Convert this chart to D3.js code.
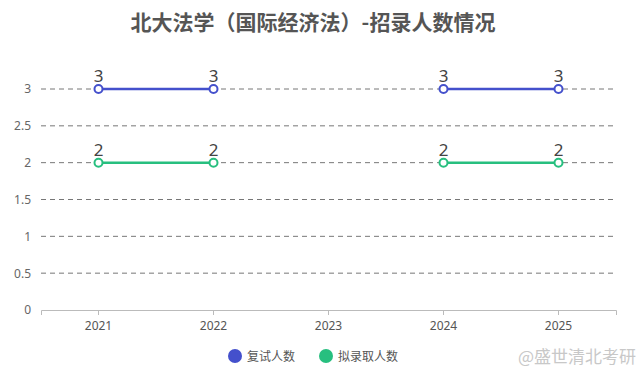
<!DOCTYPE html>
<html>
<head>
<meta charset="utf-8">
<script src="https://cdn.jsdelivr.net/npm/d3@7/dist/d3.min.js"></script>
<style>
  body { margin: 0; background: #fff; font-family: "Noto Sans CJK SC", "Noto Sans", sans-serif; }
  svg { display: block; }
</style>
</head>
<body>
<svg id="chart"></svg>
<script>
'use strict';

// datos
var years = ['2021', '2022', '2023', '2024', '2025'];
var fushi = [3, 3, null, 3, 3];
var nilu = [2, 2, null, 2, 2];
var yTicks = [0, 0.5, 1, 1.5, 2, 2.5, 3];
var seriesNames = ['复试人数', '拟录取人数'];
var colors = ['#4450cc', '#27bf7f'];

var W = 644, H = 384;
var margin = { top: 52, right: 28, bottom: 74, left: 41 };
var width = W - margin.left - margin.right;
var height = H - margin.top - margin.bottom;

var svg = d3.select('#chart').attr('width', W).attr('height', H);

svg.append('text')
  .attr('x', 313).attr('y', 30)
  .attr('text-anchor', 'middle')
  .attr('font-size', 21).attr('font-weight', 'bold')
  .attr('fill', '#555')
  .text('北大法学（国际经济法）-招录人数情况');

var g = svg.append('g').attr('transform', 'translate(' + margin.left + ',' + margin.top + ')');

var x = d3.scaleBand().domain(years).range([0, width]);
// 3 cae en y=89, 0 en y=310
var y = d3.scaleLinear().domain([0, 3]).range([height, 89 - margin.top]);

// grid
g.append('g').selectAll('line')
  .data(yTicks.filter(function (d) { return d > 0; }))
  .enter().append('line')
  .attr('x1', 0).attr('x2', width)
  .attr('y1', function (d) { return y(d); })
  .attr('y2', function (d) { return y(d); })
  .attr('stroke', '#777').attr('stroke-dasharray', '5,4').attr('stroke-width', 1);

// eje Y
var axisY = d3.axisLeft(y).tickValues(yTicks).tickSize(0).tickPadding(10)
  .tickFormat(function (d) { return String(d); });
var gy = g.append('g').call(axisY);
gy.select('.domain').remove();
gy.selectAll('text').attr('fill', '#666').attr('font-size', 12).attr('font-family', '"Noto Sans", sans-serif');

// eje X
var axisX = d3.axisBottom(x).tickSize(5).tickPadding(6);
var gx = g.append('g').attr('transform', 'translate(0,' + height + ')').call(axisX);
gx.select('.domain').attr('stroke', '#bbb');
gx.selectAll('line').attr('stroke', '#bbb');
gx.selectAll('text').attr('fill', '#555').attr('font-size', 12).attr('font-family', '"Noto Sans", sans-serif');

var cx = function (i) { return x(years[i]) + x.bandwidth() / 2; };

[fushi, nilu].forEach(function (vals, k) {
  var line = d3.line()
    .defined(function (d) { return d != null; })
    .x(function (d, i) { return cx(i); })
    .y(function (d) { return y(d); });
  g.append('path').datum(vals)
    .attr('d', line).attr('fill', 'none')
    .attr('stroke', colors[k]).attr('stroke-width', 2.5);
  var pts = vals.map(function (v, i) { return { v: v, i: i }; }).filter(function (d) { return d.v != null; });
  g.append('g').selectAll('circle').data(pts).enter().append('circle')
    .attr('cx', function (d) { return cx(d.i); })
    .attr('cy', function (d) { return y(d.v); })
    .attr('r', 4).attr('fill', '#fff')
    .attr('stroke', colors[k]).attr('stroke-width', 2);
  g.append('g').selectAll('text').data(pts).enter().append('text')
    .attr('x', function (d) { return cx(d.i); })
    .attr('y', function (d) { return y(d.v) - 7; })
    .attr('text-anchor', 'middle')
    .attr('font-size', 17).attr('fill', '#444')
    .attr('font-family', '"Noto Sans", sans-serif')
    .text(function (d) { return d.v; });
});

// leyenda
var legendX = [235, 326];
seriesNames.forEach(function (name, k) {
  svg.append('circle').attr('cx', legendX[k]).attr('cy', 356).attr('r', 7).attr('fill', colors[k]);
  svg.append('text').attr('x', legendX[k] + 12).attr('y', 360.5)
    .attr('font-size', 12).attr('fill', '#555').text(name);
});

// marca de agua
svg.append('text').attr('x', 636).attr('y', 363).attr('text-anchor', 'end')
  .attr('font-size', 17).attr('fill', '#c8c8c8').text('@盛世清北考研');
</script>
</body>
</html>
